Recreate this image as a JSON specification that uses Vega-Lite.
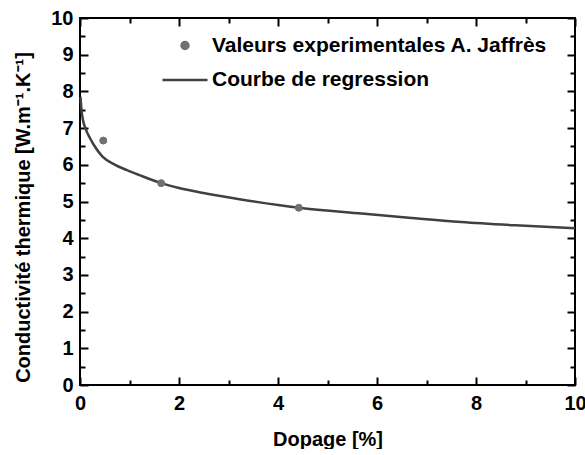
{
  "$schema": "https://vega.github.io/schema/vega-lite/v6.json",
  "width": 495,
  "height": 367,
  "padding": {"left": 13, "top": 8, "right": 0, "bottom": 0},
  "background": "white",
  "config": {
    "view": {"stroke": "black", "strokeWidth": 2},
    "font": "Liberation Sans"
  },
  "datasets": {
    "points": [
      {"dopage": 0.47, "conductivite": 6.66, "series": "Valeurs experimentales A. Jaffrès"},
      {"dopage": 1.64, "conductivite": 5.5, "series": "Valeurs experimentales A. Jaffrès"},
      {"dopage": 4.42, "conductivite": 4.83, "series": "Valeurs experimentales A. Jaffrès"}
    ],
    "curve": [
      {"dopage": 0.01, "conductivite": 7.85},
      {"dopage": 0.03, "conductivite": 7.5},
      {"dopage": 0.06, "conductivite": 7.22},
      {"dopage": 0.11, "conductivite": 6.99},
      {"dopage": 0.2, "conductivite": 6.73},
      {"dopage": 0.28, "conductivite": 6.54},
      {"dopage": 0.45, "conductivite": 6.23},
      {"dopage": 0.71, "conductivite": 6.0},
      {"dopage": 0.95, "conductivite": 5.855},
      {"dopage": 1.2, "conductivite": 5.72},
      {"dopage": 1.64, "conductivite": 5.5},
      {"dopage": 2.0, "conductivite": 5.37},
      {"dopage": 2.5, "conductivite": 5.23},
      {"dopage": 3.19, "conductivite": 5.07},
      {"dopage": 4.42, "conductivite": 4.83},
      {"dopage": 5.69, "conductivite": 4.67},
      {"dopage": 6.7, "conductivite": 4.55},
      {"dopage": 7.7, "conductivite": 4.44},
      {"dopage": 8.8, "conductivite": 4.35},
      {"dopage": 10, "conductivite": 4.27}
    ]
  },
  "layer": [
    {
      "data": {"name": "curve"},
      "mark": {"type": "line", "color": "#404040", "strokeWidth": 2.5, "interpolate": "monotone"},
      "encoding": {
        "x": {
          "field": "dopage", "type": "quantitative",
          "scale": {"domain": [0, 10], "nice": false},
          "axis": {
            "orient": "bottom",
            "grid": false,
            "domainColor": "black", "tickColor": "black", "tickWidth": 2,
            "labelFont": "Liberation Sans", "labelFontSize": 20, "labelFontWeight": "bold", "labelColor": "black", "labelFlush": false,
            "titleFont": "Liberation Sans", "titleFontSize": 20, "titleFontWeight": "bold", "titleColor": "black",
            "values": [0, 1, 2, 3, 4, 5, 6, 7, 8, 9, 10],
            "tickSize": {"condition": {"test": "datum.value % 2 === 0", "value": -8}, "value": -5},
            "labelExpr": "datum.value % 2 === 0 ? format(datum.value, 'd') : ''",
            "labelPadding": 16,
            "title": "Dopage [%]",
            "titlePadding": 16
          }
        },
        "y": {
          "field": "conductivite", "type": "quantitative",
          "scale": {"domain": [0, 10], "nice": false},
          "axis": {
            "orient": "left",
            "grid": false,
            "domainColor": "black", "tickColor": "black", "tickWidth": 2,
            "labelFont": "Liberation Sans", "labelFontSize": 20, "labelFontWeight": "bold", "labelColor": "black", "labelFlush": false,
            "titleFont": "Liberation Sans", "titleFontSize": 20, "titleFontWeight": "bold", "titleColor": "black",
            "values": [0, 0.5, 1, 1.5, 2, 2.5, 3, 3.5, 4, 4.5, 5, 5.5, 6, 6.5, 7, 7.5, 8, 8.5, 9, 9.5, 10],
            "tickSize": {"condition": {"test": "datum.value % 1 === 0", "value": -8}, "value": -5},
            "labelExpr": "datum.value % 1 === 0 ? format(datum.value, 'd') : ''",
            "labelPadding": 15,
            "title": "Conductivité thermique [W.m⁻¹.K⁻¹]",
            "titleY": 199,
            "titlePadding": 17
          }
        }
      }
    },
    {
      "data": {"name": "points"},
      "mark": {"type": "point", "filled": true, "size": 49, "strokeWidth": 1, "opacity": 1},
      "encoding": {
        "x": {
          "field": "dopage", "type": "quantitative",
          "scale": {"domain": [0, 10], "nice": false},
          "axis": {
            "orient": "top",
            "grid": false,
            "domainColor": "black", "tickColor": "black", "tickWidth": 2,
            "values": [0, 1, 2, 3, 4, 5, 6, 7, 8, 9, 10],
            "tickSize": {"condition": {"test": "datum.value % 2 === 0", "value": -8}, "value": -5},
            "labels": false,
            "title": null
          }
        },
        "y": {
          "field": "conductivite", "type": "quantitative",
          "scale": {"domain": [0, 10], "nice": false},
          "axis": {
            "orient": "right",
            "grid": false,
            "domainColor": "black", "tickColor": "black", "tickWidth": 2,
            "values": [0, 0.5, 1, 1.5, 2, 2.5, 3, 3.5, 4, 4.5, 5, 5.5, 6, 6.5, 7, 7.5, 8, 8.5, 9, 9.5, 10],
            "tickSize": {"condition": {"test": "datum.value % 1 === 0", "value": -8}, "value": -5},
            "labels": false,
            "title": null
          }
        },
        "color": {
          "field": "series", "type": "nominal",
          "scale": {"domain": ["Valeurs experimentales A. Jaffrès", "Courbe de regression"], "range": ["#707070", "#404040"]},
          "legend": {
            "orient": "none",
            "legendX": 81,
            "legendY": 17,
            "title": null,
            "padding": 0,
            "labelFont": "Liberation Sans",
            "labelFontSize": 21,
            "labelFontWeight": "bold",
            "labelColor": "black",
            "labelLimit": 0,
            "symbolStrokeWidth": 2.5,
            "symbolOffset": 0,
            "labelOffset": 3,
            "rowPadding": -10
          }
        },
        "stroke": {
          "field": "series", "type": "nominal",
          "scale": {"domain": ["Valeurs experimentales A. Jaffrès", "Courbe de regression"], "range": ["#707070", "#404040"]}
        },
        "shape": {
          "field": "series", "type": "nominal",
          "scale": {"domain": ["Valeurs experimentales A. Jaffrès", "Courbe de regression"], "range": ["circle", "stroke"]}
        },
        "size": {
          "field": "series", "type": "nominal",
          "scale": {"domain": ["Valeurs experimentales A. Jaffrès", "Courbe de regression"], "range": [49, 2025]}
        }
      }
    }
  ],
  "resolve": {"scale": {"x": "independent", "y": "independent"}, "axis": {"x": "independent", "y": "independent"}}
}
